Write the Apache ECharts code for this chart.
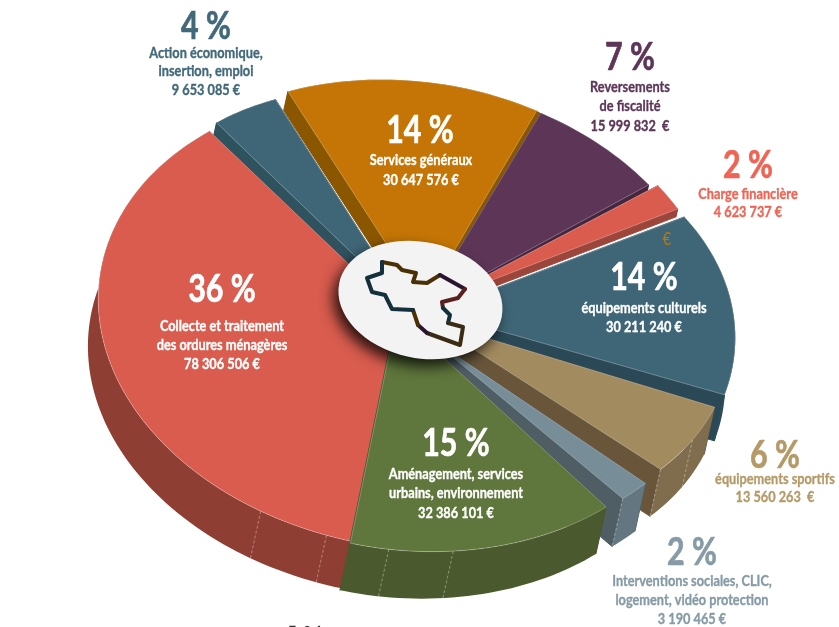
<!DOCTYPE html>
<html>
<head>
<meta charset="utf-8">
<style>
  html, body { margin: 0; padding: 0; background: #fff; }
  #main { width: 839px; height: 627px; }
</style>
</head>
<body>
<div id="main"></div>
<script src="https://cdn.jsdelivr.net/npm/echarts@6/dist/echarts.min.js"></script>
<script>
// budget items, clockwise, starting from the big red slice
var categories = [
  ['Collecte et traitement', 'des ordures ménagères'],
  ['Action économique,', 'insertion, emploi'],
  ['Services généraux'],
  ['Reversements', 'de fiscalité'],
  ['Charge financière'],
  ['équipements culturels'],
  ['équipements sportifs'],
  ['Interventions sociales, CLIC,', 'logement, vidéo protection'],
  ['Aménagement, services', 'urbains, environnement']
];
var values = [78306506, 9653085, 30647576, 15999832, 4623737, 30211240, 13560263, 3190465, 32386101];
var pctLabels = ['36 %', '4 %', '14 %', '7 %', '2 %', '14 %', '6 %', '2 %', '15 %'];
var amountLabels = ['78 306 506 €', '9 653 085 €', '30 647 576 €', '15 999 832  €', '4 623 737 €', '30 211 240 €', '13 560 263  €', '3 190 465 €', '32 386 101 €'];

// styles per slice, same order
var topColors = ['#D95C4E', '#3F6677', '#C47505', '#5C3557', '#D95C4E', '#3F6677', '#A38B60', '#778E99', '#5F763C'];
var sideColors = ['#8F3E33', '#2F525F', '#8A5600', '#43263F', '#9C453B', '#2A4855', '#69563A', '#4F5D64', '#4A5A2E'];
var wallColors = ['#8F3E33', '#2F525F', '#8A5600', '#43263F', '#9C453B', '#2A4855', '#7F6D4D', '#647680', '#4A5A2E'];
var textColors = ['#fff', '#42697A', '#fff', '#5C3557', '#EE6455', '#fff', '#B59A68', '#869BA5', '#fff'];
var depths = [47, 14, 19, 6, 8, 46, 47, 48, 47];
var arcX = [412, 379, 408, 406, 443, 441, 460, 386, 406];
var arcY = [320, 274, 294, 305, 292, 333, 323, 294, 334];
var arcK = [0.985, 0.79, 0.916, 0.96, 0.85, 0.92, 0.85, 1.1, 0.93];
var arcTilt = [8, 8, 8, 8, 8, 2, 8, 8, 8];
var apexX = [398, 408, 424, 424, 440, 433, 430, 430, 397];
var apexY = [311, 307, 302, 307, 300, 312, 321, 338, 315];
var lipRight = [0, 0, 7, 0, 0, 0, 0, 0, 0];
var seams = [[190, 203], [], [], [], [], [], [115, 126.41], [131.66], [165, 177.5]];
var labelX = [222, 206, 420, 630, 748, 644, 775, 692, 456];
var labelY = [290, 27, 131, 58, 166, 278, 456, 553, 444];
var firstGap = [36, 26, 29, 29, 28, 30, 23, 28, 30];
var lineGap = [19, 18.5, 20, 19.5, 18.5, 19, 18, 19, 19.5];
var drawOrder = [2, 1, 3, 4, 5, 6, 7, 0, 8];

var startAngle = 185;
var radiusX = 320, radiusY = 232;
var total = values.reduce(function (a, b) { return a + b; }, 0);
var angles = [];
var acc = startAngle;
values.forEach(function (v) {
  var span = v / total * 360;
  angles.push([acc, acc + span]);
  acc += span;
});

function arcPoint(i, deg) {
  var t = deg * Math.PI / 180, tilt = arcTilt[i] * Math.PI / 180;
  var x = radiusX * Math.sin(t), y = -radiusY * Math.cos(t);
  return [
    arcX[i] + arcK[i] * (x * Math.cos(tilt) - y * Math.sin(tilt)),
    arcY[i] + arcK[i] * (x * Math.sin(tilt) + y * Math.cos(tilt))
  ];
}
function drop(p, d) {
  return [p[0] - d * 0.22, p[1] + d];
}

function renderSlice(params, api) {
  var i = api.value(0);
  var d = depths[i];
  var arc = [];
  for (var a = angles[i][0]; a < angles[i][1]; a += 1.5) arc.push(arcPoint(i, a));
  arc.push(arcPoint(i, angles[i][1]));
  var first = arc[0], last = arc[arc.length - 1];
  var apex = [apexX[i], apexY[i]];
  var lower = arc.map(function (p) { return drop(p, d); }).reverse();
  var hair = 'rgba(255,255,255,0.45)';
  var children = [
    { type: 'polygon', shape: { points: [apex, first, drop(first, d), drop(apex, d)] }, style: { fill: sideColors[i], stroke: sideColors[i], lineWidth: 1 } },
    { type: 'polygon', shape: { points: [apex, last, drop(last, d), drop(apex, d)] }, style: { fill: sideColors[i], stroke: sideColors[i], lineWidth: 1 } },
    { type: 'polygon', shape: { points: arc.concat(lower) }, style: { fill: wallColors[i] } }
  ];
  if (lipRight[i]) {
    // strip of the side wall that shows past the right edge
    var lip = lipRight[i];
    children.push({
      type: 'polygon',
      shape: { points: [apex, last, [last[0] + lip, last[1] + 4], [apex[0] + lip, apex[1] + 4]] },
      style: { fill: sideColors[i] }
    });
  }
  seams[i].forEach(function (s) {
    var p = arcPoint(i, s);
    children.push({
      type: 'line',
      shape: { x1: p[0], y1: p[1], x2: drop(p, d)[0], y2: drop(p, d)[1] },
      style: { stroke: hair, lineWidth: 0.8, lineDash: [3, 2] }
    });
  });
  children.push({
    type: 'polygon',
    shape: { points: [apex].concat(arc) },
    style: { fill: topColors[i], stroke: hair, lineWidth: 0.6 }
  });
  return { type: 'group', children: children };
}

var labelFont = 'Lato, "Noto Sans", sans-serif';
function textEl(text, x, y, size, color, weight, sx, thick) {
  return {
    type: 'text', x: x, y: y, z: 100, scaleX: sx || 0.85,
    style: {
      text: text, fill: color, fontFamily: labelFont, fontWeight: weight || 'bold', fontSize: size,
      stroke: color, lineWidth: thick === undefined ? 0.35 : thick,
      align: 'center', verticalAlign: 'middle', textAlign: 'center', textVerticalAlign: 'middle'
    }
  };
}

var graphics = [];
// centre disc
graphics.push({
  type: 'ellipse', z: 50, x: 420.5, y: 300, rotation: -12 * Math.PI / 180,
  shape: { cx: 0, cy: 0, rx: 83, ry: 58 },
  style: { fill: '#F3F3F3', shadowBlur: 14, shadowColor: 'rgba(0,0,0,0.8)', shadowOffsetX: -5, shadowOffsetY: 7 }
});
// little map outline in the disc
var mapParts = [
  { color: '#4A3006', pts: [[382, 262], [397, 265], [402, 270], [416, 273], [413, 282], [427, 283], [440, 275]] },
  { color: '#2A1530', pts: [[440, 275], [465, 289]] },
  { color: '#5A1F1F', pts: [[465, 289], [458, 298], [442, 302], [443, 308]] },
  { color: '#14303C', pts: [[443, 308], [450, 315], [448, 323]] },
  { color: '#3A2C14', pts: [[448, 323], [463, 327], [460, 345], [427, 333]] },
  { color: '#2A1530', pts: [[427, 333], [418, 325]] },
  { color: '#4A3006', pts: [[418, 325], [413, 310]] },
  { color: '#14303C', pts: [[413, 310], [392, 309], [385, 295], [372, 292], [367, 278], [382, 273], [382, 262]] }
];
mapParts.forEach(function (m) {
  graphics.push({
    type: 'polyline', z: 60,
    shape: { points: m.pts },
    style: { stroke: m.color, lineWidth: 4, fill: null, lineJoin: 'round', lineCap: 'round' }
  });
});
// texts
categories.forEach(function (lines, i) {
  var y = labelY[i];
  graphics.push(textEl(pctLabels[i], labelX[i], y, 38, textColors[i], 'bold', 0.8, 0.7));
  y += firstGap[i];
  lines.concat([amountLabels[i]]).forEach(function (line) {
    graphics.push(textEl(line, labelX[i] + (i === 2 ? 1 : 0), y, 15, textColors[i]));
    y += lineGap[i];
  });
});
graphics.push(textEl('€', 667, 240, 17, '#C47505', 'normal', 0.85, 0));
graphics.push(textEl('F- 0 4', 305, 632, 15, '#333333'));

var chart = echarts.init(document.getElementById('main'), null, { renderer: 'canvas' });
chart.setOption({
  animation: false,
  backgroundColor: '#fff',
  graphic: { elements: graphics },
  series: [{
    type: 'custom',
    coordinateSystem: 'none',
    silent: true,
    renderItem: renderSlice,
    encode: { value: 1 },
    data: drawOrder.map(function (i) { return [i, values[i]]; })
  }]
});
</script>
</body>
</html>
